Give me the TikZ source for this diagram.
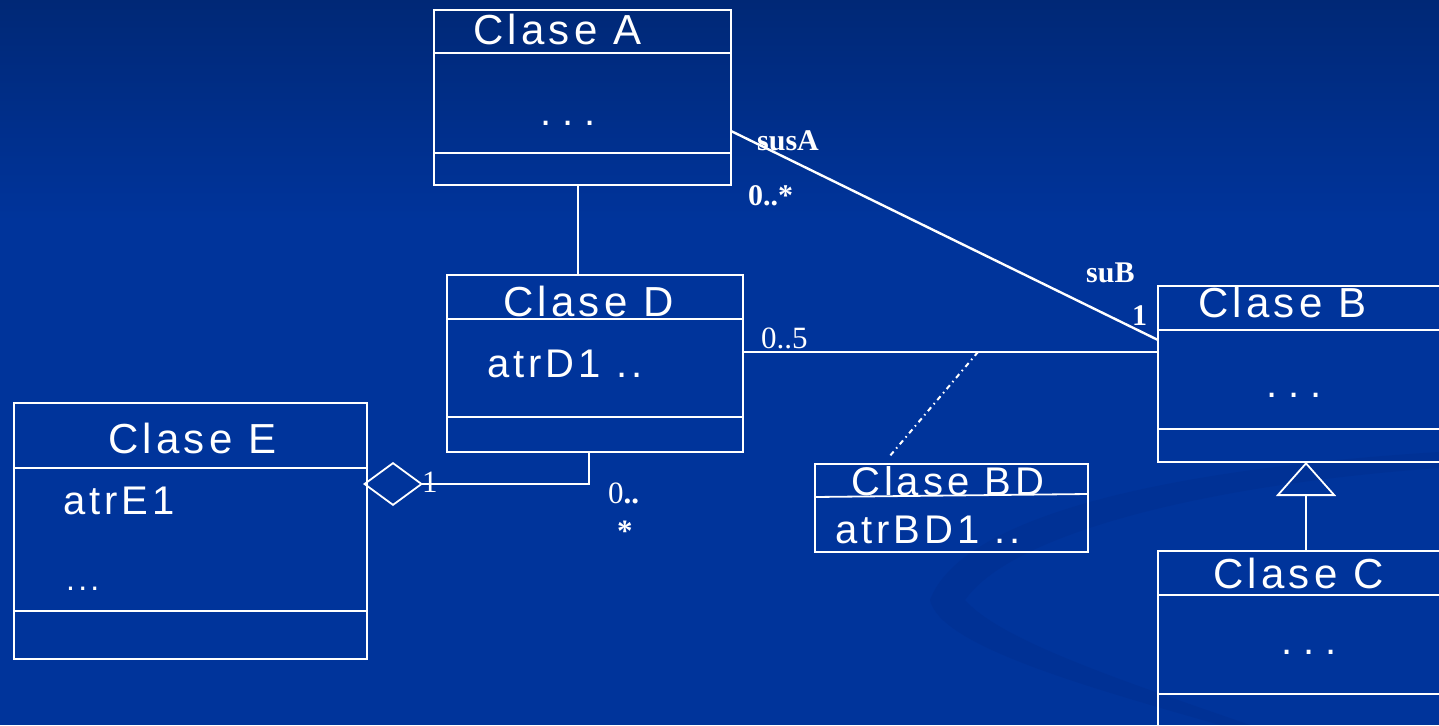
\documentclass[tikz,border=0pt]{standalone}
\usepackage{fontspec}
\setmainfont{Liberation Serif}
\newfontfamily\boxfont[LetterSpace=10]{Liberation Sans}
\newfontfamily\dotfont[LetterSpace=27]{Liberation Sans}
\newfontfamily\labelfont{Liberation Serif}
\usetikzlibrary{arrows.meta}

\definecolor{bgtop}{RGB}{0,40,118}
\definecolor{bgmain}{RGB}{0,52,155}
\definecolor{swoosh}{RGB}{0,38,125}

\begin{document}
\begin{tikzpicture}[x=1pt,y=-1pt,
  classbox/.style={draw=white,line width=1.8pt,anchor=north west,inner sep=0pt,outer sep=0pt},
  sep/.style={draw=white,line width=2.6pt},
  title/.style={text=white,anchor=base west,inner sep=0pt,font=\boxfont\fontsize{42}{48}\selectfont},
  attr/.style={text=white,anchor=base west,inner sep=0pt,font=\boxfont\fontsize{40}{46}\selectfont},
  dots/.style={text=white,anchor=base west,inner sep=0pt,font=\dotfont\fontsize{40}{46}\selectfont},
  smalldots/.style={text=white,anchor=base west,inner sep=0pt,font=\boxfont\fontsize{32}{36}\selectfont},
  role/.style={text=white,anchor=base west,inner sep=0pt,font=\labelfont\bfseries\fontsize{30}{34}\selectfont},
  mult/.style={text=white,anchor=base west,inner sep=0pt,font=\labelfont\fontsize{31}{36}\selectfont},
  link/.style={draw=white,line width=2.4pt},
]
% background
\fill[bgmain] (0,0) rectangle (1439,725);
\shade[top color=bgtop,bottom color=bgmain] (0,0) rectangle (1439,220);
\fill[swoosh,opacity=0.2] (930,600) .. controls (960,520) and (1150,470) .. (1439,452)
  -- (1439,468) .. controls (1200,485) and (1010,535) .. (965,600)
  .. controls (1000,640) and (1120,680) .. (1250,725) -- (1220,725)
  .. controls (1080,685) and (940,645) .. (930,600) -- cycle;
\clip (0,0) rectangle (1439,725);
\useasboundingbox (0,0) rectangle (1439,725);

% class boxes
\node[classbox,minimum width=297pt,minimum height=175pt] (A) at (434,10) {};
\node[classbox,minimum width=296pt,minimum height=177pt] (D) at (447,275) {};
\node[classbox,minimum width=353pt,minimum height=256pt] (E) at (14,403) {};
\node[classbox,minimum width=300pt,minimum height=176pt] (B) at (1158,286) {};
\node[classbox,minimum width=300pt,minimum height=200pt] (C) at (1158,551) {};
\node[classbox,minimum width=273pt,minimum height=88pt] (BD) at (815,464) {};

% compartments
\draw[sep] ([yshift=-43pt]A.north west) -- ([yshift=-43pt]A.north east);
\draw[sep] ([yshift=-143pt]A.north west) -- ([yshift=-143pt]A.north east);
\draw[sep] ([yshift=-44pt]D.north west) -- ([yshift=-44pt]D.north east);
\draw[sep] ([yshift=-142pt]D.north west) -- ([yshift=-142pt]D.north east);
\draw[sep] ([yshift=-65pt]E.north west) -- ([yshift=-65pt]E.north east);
\draw[sep] ([yshift=-208pt]E.north west) -- ([yshift=-208pt]E.north east);
\draw[sep] ([yshift=-44pt]B.north west) -- ([yshift=-44pt]B.north east);
\draw[sep] ([yshift=-143pt]B.north west) -- ([yshift=-143pt]B.north east);
\draw[sep] ([yshift=-44pt]C.north west) -- ([yshift=-44pt]C.north east);
\draw[sep] ([yshift=-143pt]C.north west) -- ([yshift=-143pt]C.north east);
\draw[draw=white,line width=1.8pt] ([yshift=-33pt]BD.north west) -- ([yshift=-30pt]BD.north east);

% texts
\node[title] (Atitle) at (473,45) {Clase A};
\node[dots] (Adots) at (540,125) {...};
\node[title] (Dtitle) at (503,316) {Clase D};
\node[attr] (Dattr) at (487,377) {atrD1 ..};
\node[title] (Etitle) at (108,453) {Clase E};
\node[attr] (Eattr) at (63,514) {atrE1};
\node[smalldots] (Edots) at (66,590) {...};
\node[title] (Btitle) at (1198,317) {Clase B};
\node[dots] (Bdots) at (1266,397) {...};
\node[title] (Ctitle) at (1213,588) {Clase C};
\node[dots] (Cdots) at (1281,654) {...};
\node[attr] (BDtitle) at (851,495) {Clase BD};
\node[attr] (BDattr) at (835,543) {atrBD1 ..};

% connectors
\coordinate (ADx) at (578,0);
\draw[link] (A.south -| ADx) -- (D.north -| ADx);
\draw[link] ([yshift=-121pt]A.north east) -- ([yshift=-54pt]B.north west);
\coordinate (DBy) at (0,352);
\draw[link] (D.east |- DBy) -- (B.west |- DBy);
\coordinate (BDlink) at (978,352);
\draw[draw=white,line width=2pt,dash pattern=on 5pt off 4pt on 1.5pt off 4pt] (BDlink) -- ([xshift=74pt,yshift=7pt]BD.north west);
\coordinate (Eagg) at (363,484);
\draw[link,{Diamond[open,length=60pt,width=44pt,line width=1.8pt]}-] (Eagg) -| ([xshift=142pt]D.south west);
\coordinate (genx) at (1306,0);
\draw[link,-{Triangle[open,length=34pt,width=60pt,line width=1.8pt]}] (C.north -| genx) -- (B.south -| genx);

% association labels
\node[role] (susA) at (757,150) {susA};
\node[role] (multA) at (748,205) {0..*};
\node[role] (suB) at (1086,282) {suB};
\node[role] (multB) at (1132,325) {1};
\node[mult] (multDB) at (761,348) {0..5};
\node[mult] (multE) at (422,492) {1};
\node[mult] (multD) at (608,503) {0\textbf{..}};
\node[mult,font=\labelfont\bfseries\fontsize{31}{36}\selectfont] (multDstar) at (617,541) {*};
\end{tikzpicture}
\end{document}
